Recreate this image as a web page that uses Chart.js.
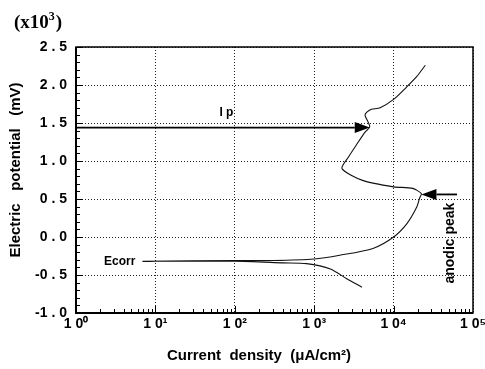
<!DOCTYPE html>
<html>
<head>
<meta charset="utf-8">
<script src="https://cdn.jsdelivr.net/npm/chart.js@4/dist/chart.umd.min.js"></script>
<style>
  html, body { margin: 0; padding: 0; background: #fff; }
  canvas { display: block; }
</style>
</head>
<body>
<canvas id="polarization" width="485" height="369"></canvas>
<script>
// ====== DATA ======
// polarization sweep: current density (uA/cm2) and potential (x10^3 mV)
const currentDensity = [4000, 2570, 1600, 800, 410, 100, 10, 7,
  100, 300, 1000, 2100, 5500, 10000, 14800, 19500, 21400, 22400,
  17400, 10000, 4070, 2240, 2690, 3390, 4370, 5010,
  4370, 4570, 5250, 6760, 10000, 14450, 19500, 25100];
const potential = [-0.66, -0.55, -0.42, -0.35, -0.34, -0.32, -0.32, -0.32,
  -0.31, -0.31, -0.29, -0.24, -0.15, 0.0, 0.18, 0.39, 0.52, 0.57,
  0.64, 0.66, 0.745, 0.90, 1.05, 1.21, 1.38, 1.45,
  1.60, 1.64, 1.68, 1.70, 1.81, 1.97, 2.11, 2.26];

const decadeTicks = [1, 10, 100, 1000, 10000, 100000];
const potentialTicks = [-1.0, -0.5, 0.0, 0.5, 1.0, 1.5, 2.0, 2.5];
const superDigits = ['\u2070', '\u00b9', '\u00b2', '\u00b3', '\u2074', '\u2075'];

// Ip: passivation arrow, peak: anodic peak arrow  [from, to]
const ipArrow = [[1, 1.44], [5010, 1.44]];
const peakArrow = [[63000, 0.56], [22400, 0.56]];

const SANS = '"Liberation Sans", Arial, sans-serif';

// ====== EXTRA DRAWING ======
function arrow(ctx, x1, y1, x2, y2) {
  const head = 15, half = 5.5;
  const dir = Math.sign(x2 - x1);
  ctx.beginPath();
  ctx.moveTo(x1, y1);
  ctx.lineTo(x2 - dir * head, y2);
  ctx.lineWidth = 1.8;
  ctx.stroke();
  ctx.beginPath();
  ctx.moveTo(x2, y2);
  ctx.lineTo(x2 - dir * head, y2 - half);
  ctx.lineTo(x2 - dir * head, y2 + half);
  ctx.closePath();
  ctx.fill();
}

const decorations = {
  id: 'decorations',
  afterDraw(chart) {
    const { ctx, chartArea: a, scales: { x, y } } = chart;
    ctx.save();
    ctx.strokeStyle = '#000';
    ctx.fillStyle = '#000';

    // frame
    ctx.lineWidth = 1.5;
    ctx.strokeRect(a.left, a.top, a.right - a.left, a.bottom - a.top);
    ctx.lineWidth = 2;
    ctx.beginPath();
    ctx.moveTo(a.left, a.top); ctx.lineTo(a.left, a.bottom); ctx.lineTo(a.right, a.bottom);
    ctx.stroke();

    // inward minor ticks
    ctx.lineWidth = 1;
    ctx.beginPath();
    for (let d = 0; d < decadeTicks.length - 1; d++) {
      for (let m = 1; m <= 9; m++) {
        const px = Math.round(x.getPixelForValue(decadeTicks[d] * m)) + 0.5;
        const len = m === 1 ? 7 : 4;
        ctx.moveTo(px, a.bottom); ctx.lineTo(px, a.bottom - len);
      }
    }
    for (let i = 0; i <= 35; i++) {
      const py = Math.round(y.getPixelForValue(-1 + i * 0.1)) + 0.5;
      const len = i % 5 === 0 ? 7 : 4;
      ctx.moveTo(a.left, py); ctx.lineTo(a.left + len, py);
    }
    ctx.stroke();

    // arrows
    [ipArrow, peakArrow].forEach(([from, to]) => {
      arrow(ctx, x.getPixelForValue(from[0]), y.getPixelForValue(from[1]),
        x.getPixelForValue(to[0]), y.getPixelForValue(to[1]));
    });

    // annotations
    ctx.font = 'bold 12px ' + SANS;
    ctx.textBaseline = 'middle';
    ctx.textAlign = 'right';
    ctx.fillText('Ecorr', x.getPixelForValue(5.6), y.getPixelForValue(-0.32));
    ctx.textAlign = 'left';
    ctx.fillText('I p', x.getPixelForValue(64), y.getPixelForValue(1.64));

    ctx.save();
    ctx.font = 'bold 14px ' + SANS;
    ctx.translate(x.getPixelForValue(52000), y.getPixelForValue(-0.08));
    ctx.rotate(-Math.PI / 2);
    ctx.textAlign = 'center';
    ctx.fillText('anodic peak', 0, 0);
    ctx.restore();

    // axis titles
    ctx.font = 'bold 15px ' + SANS;
    ctx.textAlign = 'center';
    ctx.fillText('Current  density  (\u03bcA/cm\u00b2)', 259, 356);
    ctx.save();
    ctx.translate(16, 170);
    ctx.rotate(-Math.PI / 2);
    ctx.fillText('Electric   potential   (mV)', 0, 0);
    ctx.restore();

    // scale factor
    ctx.textAlign = 'left';
    ctx.textBaseline = 'alphabetic';
    ctx.font = 'bold 19px "Liberation Serif", "Times New Roman", serif';
    ctx.fillText('(x10', 14, 28);
    let w = ctx.measureText('(x10').width;
    ctx.font = 'bold 12px "Liberation Serif", "Times New Roman", serif';
    ctx.fillText('3', 14 + w, 20);
    w += ctx.measureText('3').width + 1;
    ctx.font = 'bold 19px "Liberation Serif", "Times New Roman", serif';
    ctx.fillText(')', 14 + w, 28);

    ctx.restore();
  }
};

// ====== CHART ======
const points = currentDensity.map((c, i) => ({ x: c, y: potential[i] }));

new Chart(document.getElementById('polarization'), {
  type: 'scatter',
  data: {
    datasets: [{
      data: points,
      showLine: true,
      borderColor: '#111',
      borderWidth: 1.1,
      pointRadius: 0,
      tension: 0.25
    }]
  },
  options: {
    responsive: false,
    animation: false,
    devicePixelRatio: 1,
    layout: { padding: { left: 0, top: 47, right: 12, bottom: 0 } },
    plugins: { legend: { display: false }, tooltip: { enabled: false } },
    scales: {
      x: {
        type: 'logarithmic',
        min: 1,
        max: 100000,
        afterBuildTicks: s => { s.ticks = decadeTicks.map(v => ({ value: v })); },
        afterFit: s => { s.height = 56; s.paddingLeft = 0; s.paddingRight = 0; },
        ticks: {
          color: '#000',
          font: { family: SANS, size: 14, weight: 'bold' },
          padding: 3,
          maxRotation: 0,
          callback: v => '1 0' + superDigits[Math.round(Math.log10(v))]
        },
        grid: { color: '#222', lineWidth: 1, drawTicks: false },
        border: { display: false, dash: [1, 2] }
      },
      y: {
        min: -1,
        max: 2.5,
        afterBuildTicks: s => { s.ticks = potentialTicks.map(v => ({ value: v })); },
        afterFit: s => { s.width = 76; s.paddingTop = 0; s.paddingBottom = 0; },
        ticks: {
          color: '#000',
          font: { family: SANS, size: 14, weight: 'bold' },
          padding: 9,
          callback: v => v.toFixed(1).split('').join(' ').replace('- ', '-')
        },
        grid: { color: '#222', lineWidth: 1, drawTicks: false },
        border: { display: false, dash: [1, 2] }
      }
    }
  },
  plugins: [decorations]
});
</script>
</body>
</html>
